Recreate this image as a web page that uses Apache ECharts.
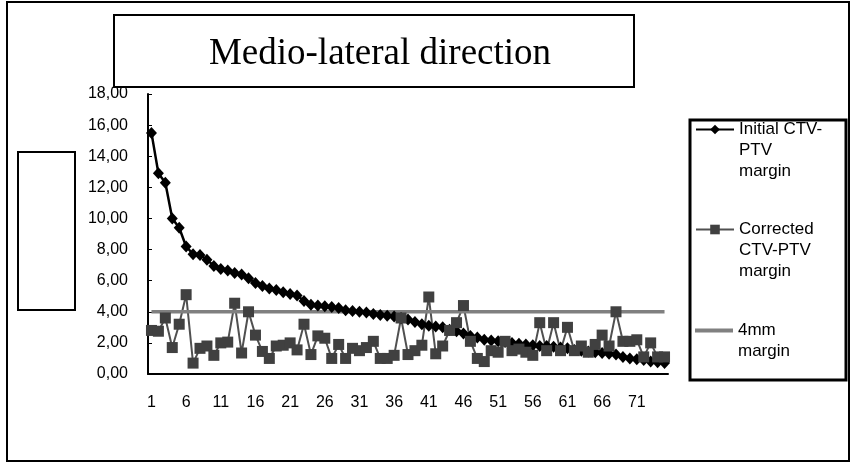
<!DOCTYPE html>
<html>
<head>
<meta charset="utf-8">
<script src="https://cdn.jsdelivr.net/npm/echarts@6/dist/echarts.min.js"></script>
<style>
  html, body { margin: 0; padding: 0; background: #fff; }
  #chart { width: 856px; height: 466px; }
</style>
</head>
<body>
<div id="chart"></div>
<script>
// patient numbers 1..75
const categories = []
for (let i = 1; i <= 75; i++) categories.push(String(i))

// initial CTV-PTV margin (mm)
const initialMargin = [
  15.5, 12.9, 12.3, 10.0, 9.4, 8.2, 7.7, 7.65, 7.35, 6.95,
  6.75, 6.65, 6.5, 6.4, 6.15, 5.85, 5.65, 5.5, 5.4, 5.25,
  5.15, 5.05, 4.7, 4.45, 4.4, 4.35, 4.3, 4.25, 4.1, 4.05,
  4.0, 3.95, 3.85, 3.8, 3.75, 3.7, 3.6, 3.5, 3.35, 3.2,
  3.1, 3.05, 3.0, 2.85, 2.75, 2.6, 2.45, 2.35, 2.2, 2.15,
  2.1, 2.05, 2.0, 1.95, 1.9, 1.85, 1.8, 1.8, 1.75, 1.7,
  1.65, 1.55, 1.5, 1.45, 1.4, 1.35, 1.3, 1.25, 1.1, 1.0,
  0.95, 0.9, 0.8, 0.75, 0.7
]

// corrected CTV-PTV margin (mm)
const correctedMargin = [
  2.8, 2.75, 3.6, 1.7, 3.2, 5.1, 0.7, 1.65, 1.8, 1.2,
  2.0, 2.05, 4.55, 1.35, 4.0, 2.5, 1.45, 1.0, 1.8, 1.85,
  2.0, 1.55, 3.2, 1.25, 2.45, 2.3, 1.0, 1.9, 1.0, 1.65,
  1.5, 1.7, 2.1, 1.0, 1.0, 1.2, 3.6, 1.25, 1.5, 1.85,
  4.95, 1.3, 1.8, 2.8, 3.3, 4.4, 2.1, 1.0, 0.8, 1.5,
  1.4, 2.1, 1.5, 1.6, 1.4, 1.2, 3.3, 1.5, 3.3, 1.5,
  3.0, 1.5, 1.8, 1.4, 1.9, 2.5, 1.8, 4.0, 2.1, 2.1,
  2.2, 1.1, 2.0, 1.1, 1.1
]

// reference 4 mm margin
const fixedMargin = categories.map(() => 4)

const yTicks = [0, 2, 4, 6, 8, 10, 12, 14, 16, 18]

const font = 'Liberation Sans'

// legend text: blank lines first so the first real line sits level with the icon
const legendText = {
  'Initial CTV-PTV margin': '\n\nInitial CTV-\nPTV\nmargin',
  'Corrected CTV-PTV margin': '\n\nCorrected\nCTV-PTV\nmargin',
  '4mm margin': '\n4mm\nmargin'
}
const legendTextStyle = { fontFamily: font, fontSize: 17, color: '#000', lineHeight: 21 }

const myChart = echarts.init(document.getElementById('chart'))

myChart.setOption({
  backgroundColor: '#fff',
  animation: false,
  title: {
    text: 'Medio-lateral direction',
    left: 375,
    top: 31,
    textAlign: 'center',
    textStyle: { fontFamily: 'Liberation Serif', fontSize: 37, fontWeight: 'normal', color: '#000' }
  },
  grid: { left: 148, right: 188, top: 94, bottom: 92 },
  xAxis: {
    type: 'category',
    data: categories,
    boundaryGap: true,
    axisLine: { lineStyle: { color: '#000', width: 2 } },
    axisTick: { interval: 0, length: 4, lineStyle: { color: '#000' } },
    axisLabel: { interval: 4, margin: 21, color: '#000', fontFamily: font, fontSize: 16 }
  },
  yAxis: {
    type: 'value',
    min: yTicks[0],
    max: yTicks[yTicks.length - 1],
    interval: 2,
    splitLine: { show: false },
    axisLine: { show: true, lineStyle: { color: '#000', width: 2 } },
    axisTick: { show: true, inside: true, length: 4, lineStyle: { color: '#000' } },
    axisLabel: {
      margin: 20, color: '#000', fontFamily: font, fontSize: 16,
      formatter: v => v.toFixed(2).replace('.', ',')
    }
  },
  legend: [
    {
      data: ['Initial CTV-PTV margin'],
      left: 695, top: 77, padding: 0,
      itemWidth: 38, itemHeight: 12,
      formatter: n => legendText[n],
      textStyle: legendTextStyle
    },
    {
      data: ['Corrected CTV-PTV margin'],
      left: 695, top: 177, padding: 0,
      itemWidth: 38, itemHeight: 12,
      formatter: n => legendText[n],
      textStyle: legendTextStyle
    },
    {
      data: [{ name: '4mm margin', icon: 'rect' }],
      left: 695, top: 299, padding: 0,
      itemWidth: 38, itemHeight: 4,
      formatter: n => legendText[n],
      textStyle: legendTextStyle
    }
  ],
  graphic: [
    // outer chart frame
    { type: 'rect', shape: { x: 7, y: 2, width: 842, height: 459 }, style: { fill: null, stroke: '#000', lineWidth: 2 }, silent: true },
    // title box
    { type: 'rect', shape: { x: 114, y: 15, width: 520, height: 72 }, style: { fill: null, stroke: '#000', lineWidth: 2 }, silent: true },
    // empty box left of the axis
    { type: 'rect', shape: { x: 18, y: 152, width: 57, height: 158 }, style: { fill: null, stroke: '#000', lineWidth: 2 }, silent: true },
    // legend box
    { type: 'rect', shape: { x: 690, y: 120, width: 156, height: 260 }, style: { fill: null, stroke: '#000', lineWidth: 3 }, silent: true }
  ],
  series: [
    {
      name: 'Initial CTV-PTV margin',
      type: 'line',
      data: initialMargin,
      color: '#000',
      symbol: 'diamond',
      symbolSize: [11, 12],
      showAllSymbol: true,
      lineStyle: { color: '#000', width: 2.5 },
      itemStyle: { color: '#000' }
    },
    {
      name: 'Corrected CTV-PTV margin',
      type: 'line',
      data: correctedMargin,
      color: '#404040',
      symbol: 'rect',
      symbolSize: 11,
      showAllSymbol: true,
      lineStyle: { color: '#505050', width: 2 },
      itemStyle: { color: '#404040' }
    },
    {
      name: '4mm margin',
      type: 'line',
      data: fixedMargin,
      color: '#808080',
      symbol: 'none',
      lineStyle: { color: '#808080', width: 3.5 }
    }
  ]
})
</script>
</body>
</html>
